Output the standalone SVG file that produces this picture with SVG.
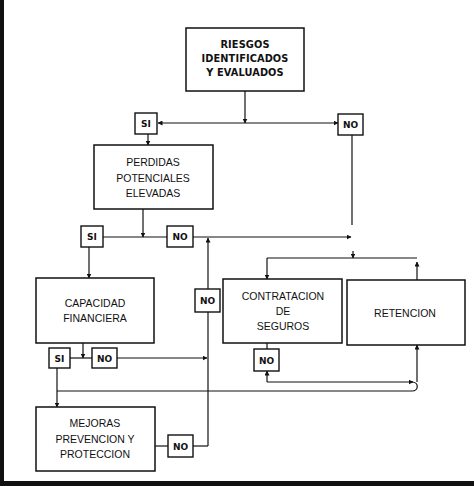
<svg xmlns="http://www.w3.org/2000/svg" width="474" height="486" viewBox="0 0 474 486">
<defs>
<style>
.box{fill:#fff;stroke:#111;stroke-width:1.5}
.lab{fill:#fff;stroke:#111;stroke-width:1.4}
.c{fill:none;stroke:#111;stroke-width:1.2}
.t{font-family:"Liberation Sans","DejaVu Sans",sans-serif;font-size:10.5px;fill:#111;text-anchor:middle}
.tb{font-family:"DejaVu Sans","Liberation Sans",sans-serif;font-size:9.8px;font-weight:bold;fill:#111;text-anchor:middle;letter-spacing:0.1px}
.tl{font-family:"DejaVu Sans","Liberation Sans",sans-serif;font-size:9px;font-weight:bold;fill:#111;text-anchor:middle}
</style>
<marker id="a" viewBox="0 0 10 10" refX="9" refY="5" markerWidth="5" markerHeight="5" orient="auto" markerUnits="userSpaceOnUse">
<path d="M0,0 L10,5 L0,10 z" fill="#111"/>
</marker>
</defs>
<rect x="0" y="0" width="474" height="486" fill="#fff"/>
<g id="frame">
<rect x="0" y="0" width="4" height="486" fill="#111"/>
<rect x="0" y="481" width="474" height="5" fill="#111"/>
</g>
<g id="connectors">
<path class="c" d="M245,91 V123" marker-end="url(#a)"/>
<path class="c" d="M245,123 H158" marker-end="url(#a)"/>
<path class="c" d="M245,123 H338" marker-end="url(#a)"/>
<path class="c" d="M148,134 V145" marker-end="url(#a)"/>
<path class="c" d="M352,135 V225"/>
<path class="c" d="M143,209 V237" marker-end="url(#a)"/>
<path class="c" d="M103,237 H167"/>
<path class="c" d="M193,237 H351" marker-end="url(#a)"/>
<path class="c" d="M353,251 V258" marker-end="url(#a)"/>
<path class="c" d="M208,446 V238" marker-end="url(#a)"/>
<path class="c" d="M89,247 V278" marker-end="url(#a)"/>
<path class="c" d="M83,343 V358" marker-end="url(#a)"/>
<path class="c" d="M70,358 H92"/>
<path class="c" d="M117,358 H207" marker-end="url(#a)"/>
<path class="c" d="M57,368 V407" marker-end="url(#a)"/>
<path class="c" d="M57,391 H412 C419,391 419,382 412,382"/>
<path class="c" d="M267,382 H413" marker-end="url(#a)"/>
<path class="c" d="M267,382 V371" marker-end="url(#a)"/>
<path class="c" d="M267,343 V349"/>
<path class="c" d="M417,382 V345" marker-end="url(#a)"/>
<path class="c" d="M267,258 H417"/>
<path class="c" d="M267,258 V279" marker-end="url(#a)"/>
<path class="c" d="M417,280 V262" marker-end="url(#a)"/>
<path class="c" d="M155,446 H168"/>
<path class="c" d="M193,446 H208"/>
</g>
<g id="riesgos">
<rect class="box" x="186" y="28" width="118" height="63"/>
<text class="tb" x="245" y="48">RIESGOS</text>
<text class="tb" x="245" y="62">IDENTIFICADOS</text>
<text class="tb" x="245" y="76">Y EVALUADOS</text>
</g>
<g id="si1"><rect class="lab" x="135" y="113" width="22" height="21"/><text class="tl" x="146" y="127">SI</text></g>
<g id="no1"><rect class="lab" x="338" y="114" width="25" height="21"/><text class="tl" x="350.5" y="128">NO</text></g>
<g id="perdidas">
<rect class="box" x="94" y="145" width="119" height="64"/>
<text class="t" x="153" y="166">PERDIDAS</text>
<text class="t" x="153" y="182">POTENCIALES</text>
<text class="t" x="153" y="197">ELEVADAS</text>
</g>
<g id="si2"><rect class="lab" x="81" y="226" width="22" height="21"/><text class="tl" x="92" y="240">SI</text></g>
<g id="no2"><rect class="lab" x="167" y="226" width="26" height="21"/><text class="tl" x="180" y="240">NO</text></g>
<g id="no-mid"><rect class="lab" x="195" y="289" width="25" height="23"/><text class="tl" x="207.5" y="304">NO</text></g>
<g id="capacidad">
<rect class="box" x="36" y="278" width="118" height="65"/>
<text class="t" x="95" y="307">CAPACIDAD</text>
<text class="t" x="95" y="322">FINANCIERA</text>
</g>
<g id="si3"><rect class="lab" x="49" y="348" width="21" height="20"/><text class="tl" x="59.5" y="362">SI</text></g>
<g id="no3"><rect class="lab" x="92" y="348" width="25" height="20"/><text class="tl" x="104.5" y="362">NO</text></g>
<g id="contratacion">
<rect class="box" x="223" y="279" width="119" height="64"/>
<text class="t" x="283" y="300">CONTRATACION</text>
<text class="t" x="283" y="315">DE</text>
<text class="t" x="283" y="330">SEGUROS</text>
</g>
<g id="retencion">
<rect class="box" x="347" y="280" width="118" height="65"/>
<text class="t" x="405" y="317">RETENCION</text>
</g>
<g id="no5"><rect class="lab" x="254" y="349" width="25" height="22"/><text class="tl" x="266.5" y="364">NO</text></g>
<g id="mejoras">
<rect class="box" x="36" y="407" width="119" height="64"/>
<text class="t" x="95" y="427">MEJORAS</text>
<text class="t" x="95" y="443">PREVENCION Y</text>
<text class="t" x="95" y="458">PROTECCION</text>
</g>
<g id="no4"><rect class="lab" x="168" y="435" width="25" height="22"/><text class="tl" x="180.5" y="450">NO</text></g>
</svg>
